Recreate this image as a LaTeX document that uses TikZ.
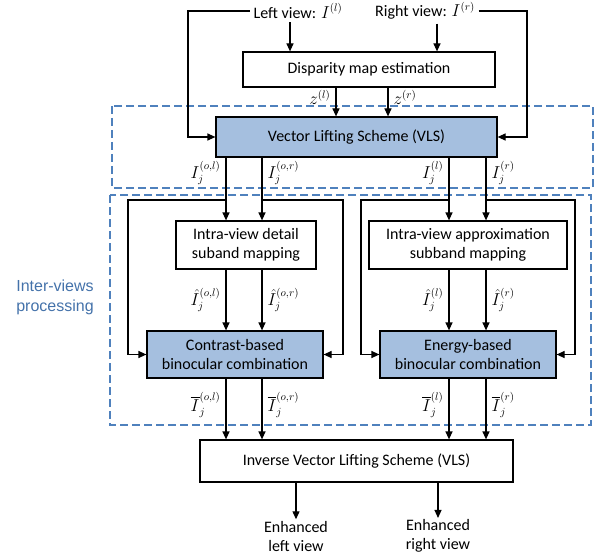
\documentclass[tikz,border=0pt]{standalone}
\usepackage{amsmath}
\usepackage{fontspec}
\setmainfont{Carlito}
\newfontfamily\arialfont{Liberation Sans}
\usetikzlibrary{arrows.meta}
\definecolor{vlsblue}{RGB}{165,191,223}
\definecolor{grpblue}{RGB}{79,129,189}
\definecolor{labblue}{RGB}{68,114,170}

\begin{document}
\begin{tikzpicture}
    [x=1pt,y=-1pt,line width=1.2pt,
     every node/.style={font=\fontsize{16}{19}\selectfont,align=center},
     blk/.style={draw,inner sep=0pt},
     hi/.style={blk,fill=vlsblue},
     lab/.style={inner sep=5pt},
     arr/.style={-{Triangle[length=8pt,width=7pt]}},
     grp/.style={draw=grpblue,dash pattern=on 8pt off 4pt,line width=1.1pt}]
    \useasboundingbox (0,0) rectangle (599,556);
    % groups
    \draw[grp] (112,106) rectangle (593,188);
    \draw[grp] (110,195) rectangle (591,425);
    \node[font=\arialfont\fontsize{16}{20}\selectfont,text=labblue] (ivp) at (55,297) {Inter-views\\processing};
    %
    \node (lv) at (298,11) {Left view: $I^{(l)}$};
    \node (rv) at (425,11) {Right view: $I^{(r)}$};
    \node[blk,minimum width=252pt,minimum height=35pt] (disp) at (369,69.5) {Disparity map estimation};
    \node[hi,minimum width=281pt,minimum height=40pt] (vls) at (356.5,137) {Vector Lifting Scheme (VLS)};
    \node[blk,minimum width=140pt,minimum height=48pt] (detail) at (246,245) {Intra-view detail\\suband mapping};
    \node[blk,minimum width=198pt,minimum height=48pt] (approx) at (468,245) {Intra-view approximation\\subband mapping};
    \node[hi,minimum width=176pt,minimum height=47pt] (contrast) at (235,354.5) {Contrast-based\\binocular combination};
    \node[hi,minimum width=176pt,minimum height=47pt] (energy) at (468,354.5) {Energy-based\\binocular combination};
    \node[blk,minimum width=313pt,minimum height=42pt] (ivls) at (356.5,461) {Inverse Vector Lifting Scheme (VLS)};
    \node[inner sep=1pt] (outL) at (296,536) {Enhanced\\left view};
    \node[inner sep=1pt] (outR) at (438,536) {Enhanced\\right view};
    %
    \coordinate (inL) at (290,0);
    \coordinate (inR) at (437,0);
    \coordinate (zL) at (336,0);
    \coordinate (zR) at (388,0);
    \coordinate (fbL) at (188,0);
    \coordinate (fbR) at (527,0);
    \coordinate (c1) at (226,0);
    \coordinate (c2) at (262,0);
    \coordinate (c3) at (449,0);
    \coordinate (c4) at (486,0);
    \coordinate (lp1) at (128,0);
    \coordinate (lp2) at (343,0);
    \coordinate (lp3) at (361,0);
    \coordinate (lp4) at (575,0);
    \coordinate (split) at (0,200);
    %
    \draw[arr] (lv.south -| inL) -- (disp.north -| inL);
    \draw[arr] (rv.south -| inR) -- (disp.north -| inR);
    \draw[arr] (lv.west) -| (fbL |- vls.west) -- (vls.west);
    \draw[arr] (rv.east) -| (fbR |- vls.east) -- (vls.east);
    \draw[arr] (disp.south -| zL) -- node[lab,left,pos=.35] {$z^{(l)}$} (vls.north -| zL);
    \draw[arr] (disp.south -| zR) -- node[lab,right,pos=.35] {$z^{(r)}$} (vls.north -| zR);
    %
    \draw[arr] (vls.south -| c1) -- node[lab,left,pos=.25] {$I_j^{(o,l)}$} (detail.north -| c1);
    \draw[arr] (vls.south -| c2) -- node[lab,right,pos=.25] {$I_j^{(o,r)}$} (detail.north -| c2);
    \draw[arr] (vls.south -| c3) -- node[lab,left,pos=.25] {$I_j^{(l)}$} (approx.north -| c3);
    \draw[arr] (vls.south -| c4) -- node[lab,right,pos=.25] {$I_j^{(r)}$} (approx.north -| c4);
    %
    \draw[arr] (split -| c1) -| (lp1 |- contrast.west) -- (contrast.west);
    \draw[arr] (split -| c2) -| (lp2 |- contrast.east) -- (contrast.east);
    \draw[arr] (split -| c3) -| (lp3 |- energy.west) -- (energy.west);
    \draw[arr] (split -| c4) -| (lp4 |- energy.east) -- (energy.east);
    %
    \draw[arr] (detail.south -| c1) -- node[lab,left] {$\hat{I}_j^{(o,l)}$} (contrast.north -| c1);
    \draw[arr] (detail.south -| c2) -- node[lab,right] {$\hat{I}_j^{(o,r)}$} (contrast.north -| c2);
    \draw[arr] (approx.south -| c3) -- node[lab,left] {$\hat{I}_j^{(l)}$} (energy.north -| c3);
    \draw[arr] (approx.south -| c4) -- node[lab,right] {$\hat{I}_j^{(r)}$} (energy.north -| c4);
    %
    \draw[arr] (contrast.south -| c1) -- node[lab,left,pos=.43] {$\overline{I}_j^{(o,l)}$} (ivls.north -| c1);
    \draw[arr] (contrast.south -| c2) -- node[lab,right,pos=.43] {$\overline{I}_j^{(o,r)}$} (ivls.north -| c2);
    \draw[arr] (energy.south -| c3) -- node[lab,left,pos=.43] {$\overline{I}_j^{(l)}$} (ivls.north -| c3);
    \draw[arr] (energy.south -| c4) -- node[lab,right,pos=.43] {$\overline{I}_j^{(r)}$} (ivls.north -| c4);
    %
    \draw[arr] (ivls.south -| outL) -- (outL);
    \draw[arr] (ivls.south -| outR) -- (outR);
\end{tikzpicture}
\end{document}
